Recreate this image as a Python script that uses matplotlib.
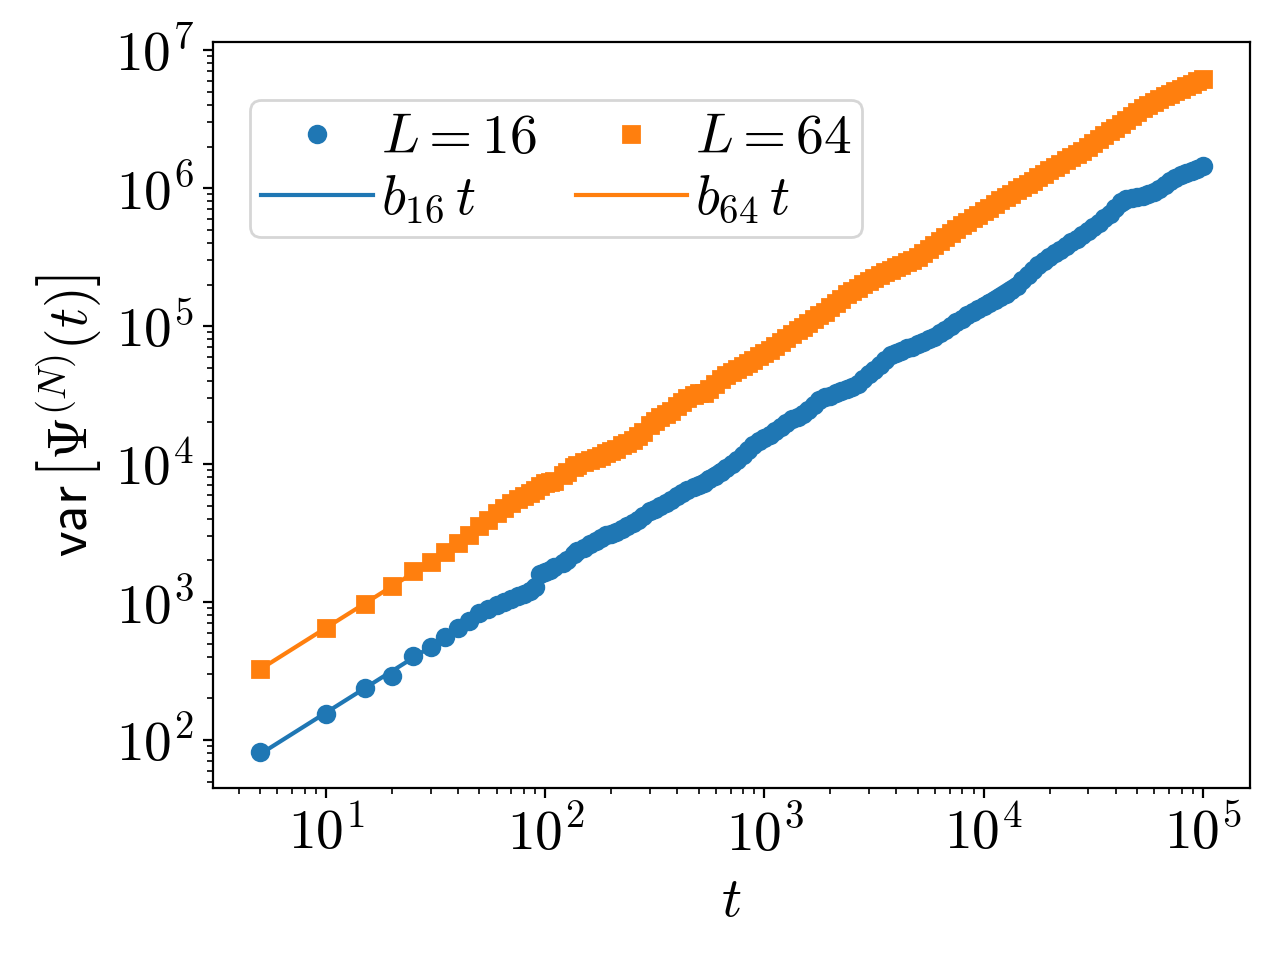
import numpy as np
import matplotlib
matplotlib.use("Agg")
from matplotlib import pyplot as plt
from matplotlib.ticker import FuncFormatter, NullFormatter

plt.rcParams['mathtext.fontset'] = 'cm'
plt.rcParams['font.size'] = 20

# sampled times (multiples of 5, denser at the start)
t = [5, 10, 15, 20, 25, 30, 35, 40, 45, 50, 55, 60, 65, 70, 75, 80, 85, 90, 95, 100,
     105, 110, 120, 125, 135, 140, 150, 160, 170, 180, 190, 200, 210, 225, 235, 250,
     265, 280, 300, 315, 335, 355, 375, 400, 420, 445, 475, 500, 530, 560, 595, 630,
     670, 710, 750, 795, 840, 890, 945, 1000, 1060, 1120, 1190, 1260, 1335, 1415,
     1495, 1585, 1680, 1780, 1885, 1995, 2115, 2240, 2370, 2510, 2660, 2820, 2985,
     3160, 3350, 3550, 3760, 3980, 4215, 4465, 4730, 5010, 5310, 5625, 5955, 6310,
     6685, 7080, 7500, 7945, 8415, 8915, 9440, 10000, 10595, 11220, 11885, 12590,
     13335, 14125, 14960, 15850, 16790, 17785, 18835, 19955, 21135, 22385, 23715,
     25120, 26605, 28185, 29855, 31625, 33495, 35480, 37585, 39810, 42170, 44670,
     47315, 50120, 53090, 56235, 59565, 63095, 66835, 70795, 74990, 79435, 84140,
     89125, 94405, 100000]

# var[Psi^(N)(t)] for L = 16
var16 = [82, 154, 237, 292, 405, 474, 560, 644, 734, 830, 891, 954, 1008, 1050, 1103,
         1144, 1199, 1278, 1606, 1640, 1712, 1782, 1932, 2013, 2228, 2324, 2475, 2624,
         2771, 2916, 3059, 3120, 3213, 3398, 3525, 3725, 3922, 4228, 4530, 4725, 4992,
         5219, 5475, 5840, 6132, 6453, 6793, 7050, 7314, 7728, 8241, 8757, 9313, 9940,
         10650, 11528, 12600, 13795, 14742, 15500, 16324, 17248, 18564, 19908, 21227,
         22074, 23023, 24568, 26712, 29014, 30349, 31322, 32571, 34048, 35076, 35893,
         38038, 41172, 44775, 48348, 52260, 57155, 61288, 63680, 66176, 68761, 70950,
         73647, 76995, 80438, 83966, 88340, 93590, 99828, 106500, 112819, 119493,
         125702, 133104, 140000, 147271, 154836, 162825, 171224, 182690, 196338,
         213928, 234580, 256887, 277446, 297593, 317285, 338160, 358160, 381812,
         406944, 431001, 459416, 489622, 521813, 559367, 603160, 653979, 716580,
         788579, 839796, 851670, 857052, 870676, 899760, 935171, 984282, 1049310,
         1118561, 1192341, 1239186, 1278928, 1327962, 1378313, 1440000]

# var[Psi^(N)(t)] for L = 64
var64 = [325, 644, 968, 1300, 1675, 1959, 2293, 2660, 3060, 3550, 3960, 4380, 4778,
         5180, 5550, 5880, 6205, 6525, 6888, 7300, 7455, 7590, 8340, 8750, 9518, 9800,
         10275, 10720, 11135, 11520, 11970, 12400, 12915, 13725, 14218, 15000, 15900,
         17080, 19200, 20633, 21943, 23075, 24188, 26200, 28140, 30260, 31825, 32500,
         32595, 34720, 38080, 41265, 44220, 46505, 48750, 51278, 53760, 56960, 60480,
         64000, 67310, 71120, 76160, 81270, 87443, 93390, 98670, 104610, 111720,
         119260, 127240, 136658, 146993, 157920, 169455, 180720, 190190, 200220,
         210443, 221200, 232825, 244950, 255680, 266660, 278190, 290225, 302720,
         318135, 339840, 362813, 387075, 416460, 444553, 474360, 506250, 540260,
         572220, 606220, 641920, 680000, 720460, 768570, 814123, 856120, 906780,
         960500, 1017280, 1069875, 1133325, 1200488, 1271363, 1346963, 1426613,
         1499795, 1588905, 1670480, 1755930, 1860210, 1985358, 2118875, 2260913,
         2412640, 2574573, 2746890, 2930815, 3126900, 3335708, 3558520, 3795935,
         4020803, 4229115, 4416650, 4611615, 4814060, 5024330, 5242710, 5469100,
         5704000, 5947515, 6200000]

# fitted slopes
b16 = 15.8
b64 = 65.0

t = np.array(t, dtype=float)

fig, ax = plt.subplots(figsize=(6.4, 4.8), dpi=200)
fig.subplots_adjust(left=213/1280, right=1250/1280, top=1-42/960, bottom=1-788/960)

ax.plot(t, var16, 'o', color='tab:blue', ms=6, label=r'$L=16$')
ax.plot(t, b16*t, '-', color='tab:blue', label=r'$b_{16}\,t$')
ax.plot(t, var64, 's', color='tab:orange', ms=6, label=r'$L=64$')
ax.plot(t, b64*t, '-', color='tab:orange', label=r'$b_{64}\,t$')

ax.set_xscale('log')
ax.set_yscale('log')

# decade labels in Computer Modern
dec = FuncFormatter(lambda v, p: r'$10^{%d}$' % int(round(np.log10(v))))
ax.xaxis.set_major_formatter(dec)
ax.yaxis.set_major_formatter(dec)
ax.xaxis.set_minor_formatter(NullFormatter())
ax.yaxis.set_minor_formatter(NullFormatter())

ax.set_xlabel(r'$t$')
ax.set_ylabel(r'$\mathsf{var}\,\left[\Psi^{(N)}(t)\right]$')

ax.legend(ncol=2, loc='upper left', bbox_to_anchor=(0.036, 0.922), borderaxespad=0,
          borderpad=0.2, labelspacing=0.12, handletextpad=0.15, columnspacing=0.7,
          fontsize=20)

fig.savefig('out.png', dpi=200)
